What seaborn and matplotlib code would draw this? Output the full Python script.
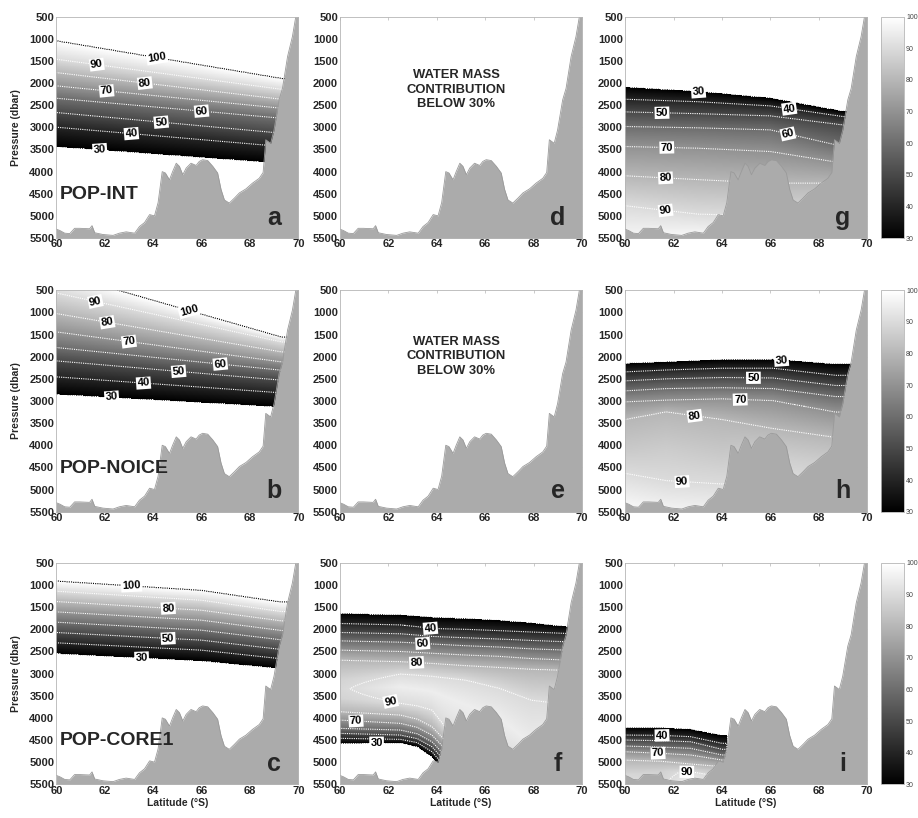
import numpy as np
import seaborn as sns
import matplotlib
matplotlib.use('Agg')
import matplotlib.pyplot as plt

# bottom topography along the section (latitude °S, pressure dbar)
bathy_lat = [60.0, 60.14, 60.34, 60.55, 60.75, 60.96, 61.37, 61.47, 61.58, 61.92, 62.34, 62.6,
             62.88, 63.23, 63.43, 63.64, 63.85, 64.05, 64.2, 64.37, 64.5, 64.67, 64.8, 64.95,
             65.08, 65.22, 65.36, 65.56, 65.77, 65.9, 66.04, 66.25, 66.46, 66.66, 66.8, 66.94,
             67.14, 67.35, 67.56, 67.83, 68.1, 68.38, 68.54, 68.65, 68.85, 68.99, 69.2, 69.34,
             69.55, 69.75, 69.89, 70.0]
bathy_dep = [5300, 5330, 5390, 5400, 5280, 5280, 5290, 5220, 5380, 5420, 5440, 5390,
             5360, 5390, 5240, 5150, 4970, 5000, 4700, 4000, 4030, 4185, 4000, 3810,
             3880, 4070, 3920, 3810, 3860, 3770, 3730, 3750, 3880, 4030, 4400, 4640,
             4710, 4600, 4480, 4390, 4260, 4150, 4020, 3280, 3360, 3060, 2380, 2120,
             1400, 950, 500, 300]

contour_levels = [30, 40, 50, 60, 70, 80, 90, 100]

# isoline depths (dbar) read at a few latitudes; values are the contribution (%)
a_lat = [60.0, 69.3]
a_val = [100, 90, 80, 70, 60, 50, 40, 30]
a_dep = [[1041, 1462, 1763, 2063, 2342, 2665, 2996, 3432],
         [1891, 2140, 2365, 2568, 2793, 3132, 3432, 3808]]
a_lab = [(100, 64.14, 1440), (90, 61.66, 1628), (80, 63.66, 1966), (70, 62.07, 2192),
         (60, 66.0, 2605), (50, 64.34, 2793), (40, 63.1, 3117), (30, 61.79, 3523)]

b_lat = [60.0, 69.3]
b_val = [100, 90, 80, 70, 60, 50, 40, 30]
b_dep = [[95, 560, 1026, 1440, 1793, 2094, 2455, 2846],
         [1553, 1665, 1891, 2117, 2305, 2530, 2816, 3132]]
b_lab = [(90, 61.59, 800), (100, 65.45, 989), (80, 62.07, 1327), (70, 62.97, 1763),
         (60, 66.76, 2229), (50, 65.03, 2440), (40, 63.59, 2643), (30, 62.28, 2966)]

c_lat = [60.0, 66.0, 69.3]
c_val = [100, 90, 80, 70, 60, 50, 40, 30]
c_dep = [[906, 1139, 1372, 1605, 1838, 2071, 2304, 2545],
         [1117, 1342, 1568, 1793, 2019, 2244, 2470, 2710],
         [1380, 1598, 1808, 2026, 2237, 2455, 2665, 2883]]
c_lab = [(100, 63.1, 1117), (80, 64.62, 1530), (50, 64.62, 2154), (30, 63.52, 2658)]

f_lat = [60.0, 62.5, 63.2, 63.8, 65.2, 66.6, 67.9, 69.4]
f_val = [[30, 40, 50, 60, 70, 80, 88, 89, 88, 80, 70, 60, 50, 40, 30]] + \
        [[30, 40, 50, 60, 70, 80, 90, 95, 90, 80, 70, 60, 50, 40, 30]] * 7
f_dep = [[1642, 1868, 2071, 2260, 2470, 2696, 3150, 3350, 3550, 3862, 4049, 4237, 4350, 4462, 4575],
         [1680, 1900, 2100, 2290, 2500, 2730, 3010, 3300, 3673, 3937, 4124, 4275, 4388, 4485, 4561],
         [1705, 1940, 2130, 2310, 2520, 2750, 3035, 3350, 3730, 4030, 4215, 4360, 4470, 4560, 4650],
         [1730, 1981, 2160, 2330, 2540, 2770, 3060, 3400, 3824, 4200, 4388, 4539, 4652, 4764, 4877],
         [1760, 2000, 2190, 2370, 2580, 2820, 3147, 3700, 4800, 5000, 5200, 5350, 5500, 5650, 5800],
         [1800, 2030, 2220, 2400, 2610, 2860, 3334, 4000, 4900, 5100, 5250, 5400, 5550, 5700, 5850],
         [1860, 2060, 2250, 2440, 2660, 2900, 3598, 4600, 5000, 5150, 5300, 5450, 5600, 5750, 5900],
         [1944, 2093, 2282, 2470, 2696, 2925, 3700, 4500, 5000, 5150, 5300, 5450, 5600, 5750, 5900]]
f_lab = [(40, 63.74, 1959), (60, 63.41, 2380), (80, 63.16, 2808), (90, 62.06, 3711),
         (70, 60.66, 4086), (30, 61.51, 4537)]

g_lat = [60.0, 63.0, 66.0, 69.0]
g_val = [[30, 40, 50, 60, 70, 80, 90, 97],
         [30, 40, 50, 60, 70, 80, 90, 98],
         [30, 40, 50, 60, 70, 80, 90, 95],
         [30, 40, 50, 60, 70, 80, 90, 95]]
g_dep = [[2094, 2365, 2650, 2980, 3432, 4094, 4770, 5450],
         [2190, 2420, 2690, 3010, 3470, 4180, 4960, 5450],
         [2340, 2515, 2740, 3056, 3545, 4260, 5000, 5500],
         [2640, 2755, 2944, 3432, 3808, 4260, 5000, 5500]]
g_lab = [(30, 63.03, 2252), (50, 61.52, 2703), (40, 66.76, 2680), (60, 66.69, 3244),
         (70, 61.72, 3470), (80, 61.66, 4244), (90, 61.66, 4936)]

h_lat = [60.0, 61.7, 64.0, 66.1, 68.7]
h_val = [[30, 40, 50, 60, 70, 80, 85, 90, 97],
         [30, 40, 50, 60, 70, 80, 86, 90, 96],
         [30, 40, 50, 60, 70, 80, 85, 90, 96],
         [30, 40, 50, 60, 70, 80, 87, 90, 95],
         [30, 40, 50, 60, 70, 80, 86, 90, 95]]
h_dep = [[2154, 2342, 2545, 2771, 3019, 3417, 4100, 4635, 5300],
         [2120, 2300, 2500, 2720, 2980, 3244, 4100, 4800, 5400],
         [2070, 2260, 2470, 2700, 2950, 3417, 4200, 4875, 5500],
         [2060, 2260, 2480, 2720, 2990, 3620, 4300, 4700, 5500],
         [2170, 2420, 2650, 2900, 3250, 3823, 4400, 4900, 5500]]
h_lab = [(30, 66.46, 2127), (50, 65.30, 2501), (70, 64.75, 3026), (80, 62.82, 3439),
         (90, 62.34, 4975)]

i_lat = [60.0, 61.5, 62.7, 64.0]
i_val = [[30, 40, 50, 60, 70, 80, 89, 92],
         [30, 40, 50, 60, 70, 80, 87, 90],
         [30, 40, 50, 60, 70, 80, 92, 96],
         [30, 40, 50, 60, 70, 80, 88, 92]]
i_dep = [[4223, 4388, 4500, 4636, 4764, 4952, 5300, 5600],
         [4225, 4395, 4515, 4660, 4800, 4980, 5200, 5600],
         [4260, 4425, 4538, 4688, 4838, 5042, 5250, 5500],
         [4400, 4575, 4710, 4838, 4951, 5100, 5300, 5600]]
i_lab = [(40, 61.52, 4440), (70, 61.35, 4914), (90, 62.55, 5252)]

model_names = ['POP-INT', 'POP-NOICE', 'POP-CORE1']
panel_letters = [['a', 'd', 'g'], ['b', 'e', 'h'], ['c', 'f', 'i']]
empty_text = 'WATER MASS\nCONTRIBUTION\nBELOW 30%'

lat_grid = np.linspace(60, 70, 401)
dep_grid = np.linspace(400, 5600, 521)


def build_field(col_lat, col_dep, col_val, top, bottom, lat_max=None):
    col_dep = np.asarray(col_dep, float)
    col_val = np.asarray(col_val, float)
    if col_val.ndim == 1:
        col_val = np.tile(col_val, (len(col_lat), 1))
    field = np.empty((dep_grid.size, lat_grid.size))
    for i, la in enumerate(lat_grid):
        dn = [np.interp(la, col_lat, col_dep[:, j]) for j in range(col_dep.shape[1])]
        vn = [np.interp(la, col_lat, col_val[:, j]) for j in range(col_val.shape[1])]
        bot = vn[-1] if bottom is None else bottom
        field[:, i] = np.interp(dep_grid, dn, vn, left=top, right=bot)
    if lat_max is not None:
        field[:, lat_grid > lat_max] = 0
    return field


fields = {
    'a': (build_field(a_lat, a_dep, a_val, 101, 0), a_lab),
    'b': (build_field(b_lat, b_dep, b_val, 101, 0), b_lab),
    'c': (build_field(c_lat, c_dep, c_val, 101, 0), c_lab),
    'f': (build_field(f_lat, f_dep, f_val, 0, 0), f_lab),
    'g': (build_field(g_lat, g_dep, g_val, 0, None), g_lab),
    'h': (build_field(h_lat, h_dep, h_val, 0, None), h_lab),
    'i': (build_field(i_lat, i_dep, i_val, 0, None, lat_max=64.22), i_lab),
}
text_depth = {'d': 2150, 'e': 1990}

sns.set_theme(style='white', rc={'axes.edgecolor': '#b5b5b5', 'axes.linewidth': 0.6})
plt.rcParams['font.family'] = ['Liberation Sans', 'DejaVu Sans']

fig = plt.figure(figsize=(9.18, 8.18), dpi=100)
cols_left = [0.0615, 0.3704, 0.681]
rows_bottom = [0.709, 0.3745, 0.0412]
ax_w, ax_h = 0.2636, 0.2706

mappable = None
for r in range(3):
    for c in range(3):
        letter = panel_letters[r][c]
        ax = fig.add_axes([cols_left[c], rows_bottom[r], ax_w, ax_h])
        ax.set_facecolor('white')
        if letter in fields:
            field, labels = fields[letter]
            mappable = ax.pcolormesh(lat_grid, dep_grid, np.ma.masked_less(field, 30),
                                     cmap='gray', vmin=30, vmax=100, shading='auto',
                                     rasterized=True, zorder=1)
            # one contour set per level so each label lands on its own line
            sets = {}
            for lv in contour_levels:
                if field.min() < lv < field.max() or lv == 30:
                    sets[lv] = ax.contour(lat_grid, dep_grid, field, levels=[lv],
                                          colors='black' if lv in (30, 100) else 'white',
                                          linewidths=0.8, linestyles=[(0, (1, 1))],
                                          zorder=2)
            for lv, x, y in labels:
                txts = sets[lv].clabel(manual=[(x, y)], inline=True, inline_spacing=2,
                                       fmt='%d', fontsize=8)
                for t in txts:
                    t.set_fontweight('bold')
                    t.set_color('black')
                    t.set_bbox(dict(facecolor='white', edgecolor='none', pad=0.8))
                    t.set_zorder(6)
        else:
            ax.text(64.8, text_depth[letter], empty_text, ha='center', va='center',
                    fontsize=9.4, fontweight='bold', linespacing=1.25, zorder=6)

        ax.fill_between(bathy_lat, bathy_dep, 6000, color='#ababab', lw=0, zorder=4)
        sns.lineplot(x=bathy_lat, y=bathy_dep, ax=ax, color='#9a9a9a', lw=0.6,
                     sort=False, estimator=None, zorder=5)

        ax.set_xlim(60, 70)
        ax.set_ylim(5500, 500)
        ax.set_xticks(range(60, 71, 2))
        ax.set_yticks(range(500, 5501, 500))
        ax.tick_params(direction='in', top=True, right=True, length=2.5, width=0.5,
                       color='#b5b5b5', labelsize=8, pad=1.5)
        ax.tick_params(axis='x', pad=1)
        for lab in ax.get_xticklabels() + ax.get_yticklabels():
            lab.set_fontweight('bold')
        ax.set_xlabel('')
        ax.set_ylabel('')
        if c == 0:
            ax.set_ylabel('Pressure (dbar)', fontsize=7.5, fontweight='bold', labelpad=6)
            ax.text(60.15, 4620, model_names[r], fontsize=14, fontweight='bold',
                    ha='left', va='baseline', zorder=6)
        if r == 2:
            ax.set_xlabel('Latitude (°S)', fontsize=7.5, fontweight='bold', labelpad=2)
        ax.text(69.0, 5200, letter, fontsize=18, fontweight='bold', ha='center',
                va='baseline', zorder=6)
        for sp in ax.spines.values():
            sp.set_zorder(7)

    cax = fig.add_axes([0.9597, rows_bottom[r], 0.025, ax_h])
    cb = fig.colorbar(mappable, cax=cax, ticks=range(30, 101, 10))
    cb.outline.set_edgecolor('#b5b5b5')
    cb.outline.set_linewidth(0.6)
    cax.tick_params(direction='in', length=2, width=0.4, color='#999999',
                    labelsize=5, labelcolor='#444444', pad=1.5, left=True)

fig.savefig('out.png', dpi=100)
